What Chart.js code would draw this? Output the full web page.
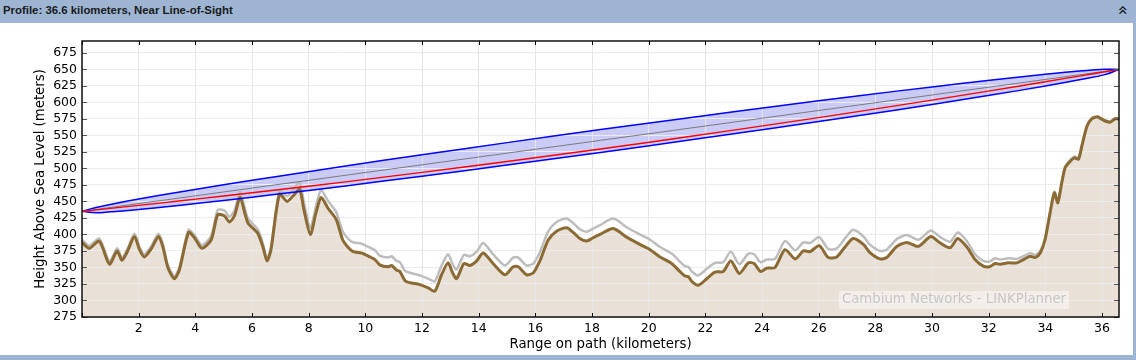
<!DOCTYPE html>
<html lang="en">
<head>
    <meta charset="UTF-8">
    <title>Profile</title>
    <script src="https://cdn.jsdelivr.net/npm/chart.js"></script>
    <style>
        body {
            margin: 0;
            width: 1136px;
            height: 360px;
            background: #9db5d3;
            overflow: hidden;
            position: relative;
        }

        .bar-title {
            position: absolute;
            left: 3px;
            top: 4px;
            margin: 0;
            font: bold 11.4px "Liberation Sans", Arial, sans-serif;
            color: #1a1a1a;
        }

        .collapse {
            position: absolute;
            left: 1117px;
            top: 0px;
            font: 17px "DejaVu Sans", sans-serif;
            color: #111;
            transform: rotate(-90deg);
        }

        .panel {
            position: absolute;
            left: 0;
            top: 23px;
            width: 1133px;
            height: 332px;
            background: #fff;
        }

        .watermark {
            position: absolute;
            left: 839px;
            top: 268px;
            width: 230px;
            height: 18px;
            line-height: 18px;
            text-align: center;
            background: rgba(255, 255, 255, 0.45);
            color: #c6c6c6;
            font: 13.3px "DejaVu Sans", sans-serif;
        }
    </style>
</head>
<body>

    <h1 class="bar-title">Profile: 36.6 kilometers, Near Line-of-Sight</h1>
    <div class="collapse">&raquo;</div>

    <div class="panel">
        <canvas id="profileChart" width="1133" height="332"></canvas>
        <div class="watermark">Cambium Networks - LINKPlanner</div>
    </div>

    <script>
        // terrain profile (km along path, metres above sea level)
        const distanceKm = [0, 0.26, 0.61, 0.97, 1.24, 1.41, 1.61, 1.85, 2.03, 2.2, 2.44, 2.7, 2.85, 3.03, 3.26, 3.44, 3.76, 3.97, 4.23, 4.56,
            4.79, 5.03, 5.2, 5.38, 5.58, 5.85, 6.2, 6.38, 6.53, 6.67, 6.97, 7.24, 7.44, 7.68, 7.83, 8.06, 8.26, 8.44, 8.68, 8.97,
            9.2, 9.38, 9.57, 9.87, 10.16, 10.34, 10.51, 10.8, 10.93, 11.1, 11.22, 11.4, 11.57, 11.92, 12.22, 12.45, 12.69, 12.92, 13.08, 13.22,
            13.48, 13.69, 13.93, 14.16, 14.51, 14.93, 15.22, 15.4, 15.69, 15.93, 16.16, 16.46, 16.75, 17.1, 17.34, 17.57, 17.81, 18.04, 18.28, 18.75,
            19.22, 19.69, 20.05, 20.4, 20.81, 21.1, 21.28, 21.4, 21.52, 21.75, 22.05, 22.34, 22.63, 22.9, 23.2, 23.52, 23.72, 23.95, 24.17, 24.46,
            24.81, 25.17, 25.46, 25.7, 26.02, 26.34, 26.64, 26.93, 27.22, 27.58, 27.8, 28.17, 28.4, 28.76, 29.11, 29.52, 29.96, 30.29, 30.64, 30.91,
            31.23, 31.52, 31.81, 32.03, 32.23, 32.4, 32.7, 32.99, 33.23, 33.46, 33.64, 33.82, 33.99, 34.17, 34.32, 34.44, 34.58, 34.7, 34.88, 35.03,
            35.17, 35.29, 35.47, 35.64, 35.84, 36.05, 36.29, 36.46, 36.6];
        const terrainM = [388, 379, 390, 355, 375, 361, 375, 397, 377, 366, 378, 397, 382, 350, 333, 347, 403, 395, 379, 392,
            430, 428, 419, 428, 456, 418, 402, 382, 360, 377, 461, 450, 458, 468, 438, 400, 433, 456, 440, 423,
            392, 381, 374, 372, 366, 362, 354, 351, 353, 346, 344, 330, 327, 324, 319, 314, 339, 357, 342, 333,
            356, 353, 360, 372, 356, 339, 351, 351, 339, 342, 360, 392, 405, 410, 403, 394, 390, 395, 400, 409,
            396, 385, 377, 366, 356, 344, 337, 336, 329, 323, 333, 343, 344, 360, 341, 357, 356, 344, 349, 350,
            377, 363, 375, 374, 383, 365, 366, 381, 394, 385, 373, 363, 365, 382, 388, 382, 397, 387, 380, 394,
            381, 362, 352, 351, 356, 355, 357, 357, 362, 367, 365, 372, 392, 433, 463, 448, 478, 501, 511, 516,
            514, 534, 564, 575, 578, 573, 570, 575, 575];
        const clutterM = [392, 383, 394, 359, 379, 365, 379, 401, 381, 370, 382, 401, 386, 354, 337, 351, 407, 399, 384, 398,
            437, 436, 427, 436, 464, 425, 408, 387, 364, 381, 466, 458, 467, 479, 449, 410, 443, 467, 451, 434,
            405, 394, 388, 386, 380, 376, 368, 365, 367, 360, 358, 345, 342, 338, 333, 329, 353, 370, 355, 347,
            369, 367, 374, 387, 370, 353, 365, 365, 353, 356, 373, 405, 419, 424, 417, 408, 404, 409, 414, 424,
            411, 400, 392, 381, 371, 359, 352, 351, 344, 338, 348, 357, 358, 374, 355, 371, 370, 358, 362, 363,
            390, 376, 388, 387, 396, 378, 379, 394, 407, 397, 385, 375, 377, 393, 399, 392, 406, 396, 389, 403,
            390, 370, 360, 359, 364, 362, 364, 363, 367, 372, 369, 375, 394, 435, 465, 450, 480, 503, 513, 518,
            516, 535, 565, 576, 579, 574, 571, 576, 576];

        // straight line of sight between the two antennas
        const losKm = [0, 36.6];
        const losM = [435, 650];

        // fresnel zone edges and the curved-earth line of sight
        const zoneKm = [0, 0.5, 1, 2, 3.5, 5, 7, 9.3, 12, 15, 18.3, 21.5, 24.5, 27.5, 30, 32.2, 34, 35.3, 36.1, 36.6];
        const zoneUpperM = [435, 440.9, 445.5, 453.6, 464.8, 475.3, 488.7, 503.7, 520.7, 539.1, 558.8, 577.3, 594.2, 610.5, 623.5, 634.4, 642.6, 647.8, 650.1, 650];
        const zoneLowerM = [435, 432.9, 434.3, 437.8, 444.4, 451.5, 461.5, 473.5, 488.3, 505.1, 524.2, 543.3, 561.6, 580.5, 596.9, 611.9, 624.8, 635, 642.1, 650];
        const curvedLosM = [435, 437.2, 439.5, 444, 451.1, 458.3, 468.1, 479.7, 494, 510.5, 529.5, 548.7, 567.4, 586.8, 603.5, 618.6, 631.3, 640.6, 646.4, 650];

        // axis ranges
        const rangeKm = [0, 36.6];
        const heightRangeM = [275, 693];
        const xStep = 2;
        const yStep = 25;

        const pairs = (xs, ys) => xs.map((x, i) => ({ x: x, y: ys[i] }));

        // black frame round the plot with inward tick marks
        const framePlugin = {
            id: 'frame',
            afterDraw(chart) {
                const { ctx, chartArea: a, scales: { x, y } } = chart;
                ctx.save();
                ctx.strokeStyle = '#000';
                ctx.lineWidth = 1;
                x.ticks.forEach(t => {
                    const px = Math.round(x.getPixelForValue(t.value)) + 0.5;
                    ctx.beginPath();
                    ctx.moveTo(px, a.bottom); ctx.lineTo(px, a.bottom - 4);
                    ctx.moveTo(px, a.top); ctx.lineTo(px, a.top + 4);
                    ctx.stroke();
                });
                ctx.strokeStyle = '#555';
                y.ticks.forEach(t => {
                    const py = Math.round(y.getPixelForValue(t.value)) + 0.5;
                    ctx.beginPath();
                    ctx.moveTo(a.left, py); ctx.lineTo(a.left + 5, py);
                    ctx.moveTo(a.right, py); ctx.lineTo(a.right - 5, py);
                    ctx.stroke();
                });
                ctx.strokeStyle = '#000';
                ctx.lineWidth = 1.4;
                ctx.strokeRect(a.left, a.top, a.right - a.left, a.bottom - a.top);
                ctx.restore();
            }
        };

        Chart.defaults.font.family = '"DejaVu Sans", sans-serif';
        Chart.defaults.color = '#000';

        new Chart(document.getElementById('profileChart').getContext('2d'), {
            type: 'line',
            data: {
                datasets: [
                    {
                        label: 'Line of sight (curved)',
                        data: pairs(zoneKm, curvedLosM),
                        borderColor: '#ff0000',
                        borderWidth: 1.4,
                        tension: 0.4,
                        fill: false
                    },
                    {
                        label: 'Line of sight',
                        data: pairs(losKm, losM),
                        borderColor: '#7a7a7a',
                        borderWidth: 1,
                        fill: false
                    },
                    {
                        label: 'Fresnel upper',
                        data: pairs(zoneKm, zoneUpperM),
                        borderColor: '#0000ff',
                        borderWidth: 1.5,
                        backgroundColor: 'rgba(140, 140, 240, 0.45)',
                        tension: 0.4,
                        fill: '+1'
                    },
                    {
                        label: 'Fresnel lower',
                        data: pairs(zoneKm, zoneLowerM),
                        borderColor: '#0000ff',
                        borderWidth: 1.5,
                        tension: 0.4,
                        fill: false
                    },
                    {
                        label: 'Terrain',
                        data: pairs(distanceKm, terrainM),
                        borderColor: '#8b6a33',
                        borderWidth: 3,
                        backgroundColor: '#e9e1d8',
                        tension: 0.25,
                        fill: 'start'
                    },
                    {
                        label: 'Clutter',
                        data: pairs(distanceKm, clutterM),
                        borderColor: '#bdbdbd',
                        borderWidth: 2.5,
                        tension: 0.25,
                        fill: false
                    }
                ]
            },
            options: {
                responsive: false,
                animation: false,
                elements: { point: { radius: 0 } },
                layout: { padding: { top: 18, right: 14, left: 30, bottom: 0 } },
                plugins: {
                    legend: { display: false },
                    tooltip: { enabled: false },
                    filler: { drawTime: 'beforeDraw' }
                },
                scales: {
                    x: {
                        type: 'linear',
                        min: rangeKm[0],
                        max: rangeKm[1],
                        afterFit(scale) { scale.height = 38; },
                        grid: { color: '#e6e6e6', drawTicks: false },
                        border: { display: false },
                        ticks: {
                            stepSize: xStep,
                            includeBounds: false,
                            autoSkip: false,
                            maxRotation: 0,
                            padding: 4,
                            font: { size: 12.5 },
                            callback: v => (v === 0 ? '' : v)
                        },
                        title: {
                            display: true,
                            text: 'Range on path (kilometers)',
                            font: { size: 13.3 },
                            padding: { top: 0, bottom: 2 }
                        }
                    },
                    y: {
                        min: heightRangeM[0],
                        max: heightRangeM[1],
                        afterFit(scale) { scale.width = 52; },
                        grid: { color: '#ececec', drawTicks: false },
                        border: { display: false },
                        ticks: {
                            stepSize: yStep,
                            includeBounds: false,
                            autoSkip: false,
                            padding: 5,
                            font: { size: 12.5 }
                        },
                        title: {
                            display: true,
                            text: 'Height Above Sea Level (meters)',
                            font: { size: 13.3 },
                            padding: { top: 3, bottom: 0 }
                        }
                    }
                }
            },
            plugins: [framePlugin]
        });
    </script>

</body>
</html>
